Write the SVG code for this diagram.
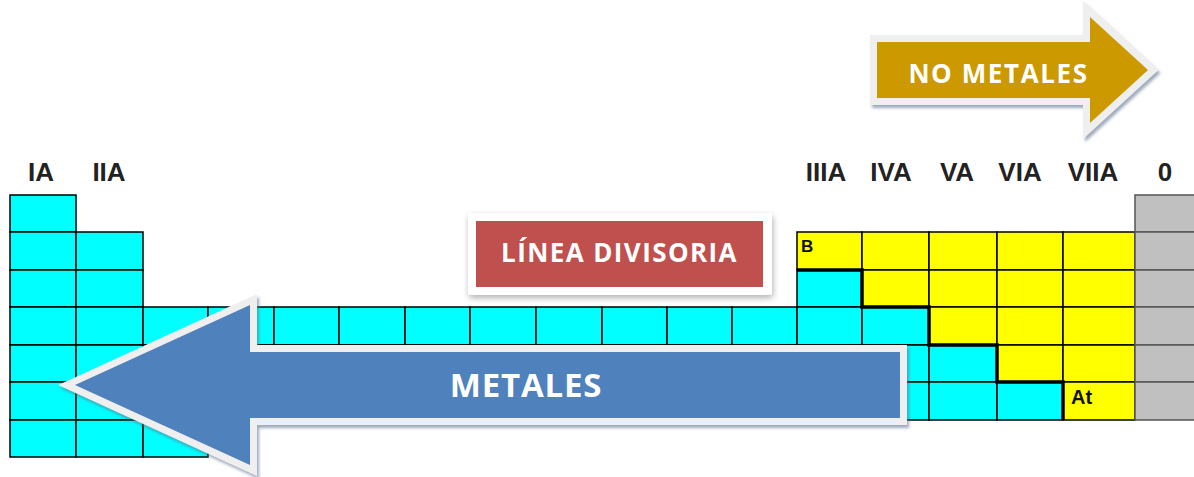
<svg xmlns="http://www.w3.org/2000/svg" width="1194" height="477" viewBox="0 0 1194 477">
<style>
.c{fill:#00FFFF;stroke:#000;stroke-width:1.5}
.y{fill:#FFFF00;stroke:#000;stroke-width:1.5}
.g{fill:#C0C0C0;stroke:#555;stroke-width:1.5}
.lbl{font-family:"Liberation Sans",Arial,sans-serif;font-weight:bold;font-size:26px;fill:#222;text-anchor:middle}
.sym{font-family:"Liberation Sans",Arial,sans-serif;font-weight:bold;fill:#111}
.wt{font-family:"Open Sans","Liberation Sans",sans-serif;font-weight:bold;fill:#fff;text-anchor:middle}
.frame{stroke:#EFEFEF;stroke-width:14;stroke-linejoin:miter;paint-order:stroke}
</style>
<defs>
<filter id="sh" x="-10%" y="-20%" width="120%" height="140%">
<feDropShadow dx="2" dy="3" stdDeviation="1.5" flood-color="#5F7290" flood-opacity="0.6"/>
</filter>
<filter id="sh2" x="-10%" y="-20%" width="120%" height="150%">
<feDropShadow dx="1" dy="3" stdDeviation="3" flood-color="#000" flood-opacity="0.3"/>
</filter>
</defs>
<rect width="1194" height="477" fill="#fff"/>

<g id="labels">
<text class="lbl" x="41" y="181">IA</text>
<text class="lbl" x="109" y="181">IIA</text>
<text class="lbl" x="826" y="181">IIIA</text>
<text class="lbl" x="891" y="181">IVA</text>
<text class="lbl" x="957" y="181">VA</text>
<text class="lbl" x="1020" y="181">VIA</text>
<text class="lbl" x="1093" y="181">VIIA</text>
<text class="lbl" x="1165" y="181">0</text>
</g>

<g id="s-block">
<rect class="c" x="10" y="195" width="66" height="37"/>
<rect class="c" x="10" y="232" width="66" height="38"/>
<rect class="c" x="10" y="270" width="66" height="37"/>
<rect class="c" x="10" y="307" width="66" height="38"/>
<rect class="c" x="10" y="345" width="66" height="37"/>
<rect class="c" x="10" y="382" width="66" height="38"/>
<rect class="c" x="10" y="420" width="66" height="37"/>
<rect class="c" x="76" y="232" width="67" height="38"/>
<rect class="c" x="76" y="270" width="67" height="37"/>
<rect class="c" x="76" y="307" width="67" height="38"/>
<rect class="c" x="76" y="345" width="67" height="37"/>
<rect class="c" x="76" y="382" width="67" height="38"/>
<rect class="c" x="76" y="420" width="67" height="37"/>
</g>

<g id="d-block">
<rect class="c" x="143" y="307" width="65" height="38"/>
<rect class="c" x="143" y="345" width="65" height="37"/>
<rect class="c" x="143" y="382" width="65" height="38"/>
<rect class="c" x="143" y="420" width="65" height="37"/>
<rect class="c" x="208" y="307" width="66" height="38"/>
<rect class="c" x="208" y="345" width="66" height="37"/>
<rect class="c" x="208" y="382" width="66" height="38"/>
<rect class="c" x="274" y="307" width="65" height="38"/>
<rect class="c" x="274" y="345" width="65" height="37"/>
<rect class="c" x="274" y="382" width="65" height="38"/>
<rect class="c" x="339" y="307" width="66" height="38"/>
<rect class="c" x="339" y="345" width="66" height="37"/>
<rect class="c" x="339" y="382" width="66" height="38"/>
<rect class="c" x="405" y="307" width="65" height="38"/>
<rect class="c" x="405" y="345" width="65" height="37"/>
<rect class="c" x="405" y="382" width="65" height="38"/>
<rect class="c" x="470" y="307" width="66" height="38"/>
<rect class="c" x="470" y="345" width="66" height="37"/>
<rect class="c" x="470" y="382" width="66" height="38"/>
<rect class="c" x="536" y="307" width="66" height="38"/>
<rect class="c" x="536" y="345" width="66" height="37"/>
<rect class="c" x="536" y="382" width="66" height="38"/>
<rect class="c" x="602" y="307" width="65" height="38"/>
<rect class="c" x="602" y="345" width="65" height="37"/>
<rect class="c" x="602" y="382" width="65" height="38"/>
<rect class="c" x="667" y="307" width="65" height="38"/>
<rect class="c" x="667" y="345" width="65" height="37"/>
<rect class="c" x="667" y="382" width="65" height="38"/>
<rect class="c" x="732" y="307" width="65" height="38"/>
<rect class="c" x="732" y="345" width="65" height="37"/>
<rect class="c" x="732" y="382" width="65" height="38"/>
</g>

<g id="p-block">
<rect class="y" x="797" y="232" width="65" height="38"/>
<rect class="c" x="797" y="270" width="65" height="37"/>
<rect class="c" x="797" y="307" width="65" height="38"/>
<rect class="c" x="797" y="345" width="65" height="37"/>
<rect class="c" x="797" y="382" width="65" height="38"/>
<rect class="y" x="862" y="232" width="67" height="38"/>
<rect class="y" x="862" y="270" width="67" height="37"/>
<rect class="c" x="862" y="307" width="67" height="38"/>
<rect class="c" x="862" y="345" width="67" height="37"/>
<rect class="c" x="862" y="382" width="67" height="38"/>
<rect class="y" x="929" y="232" width="68" height="38"/>
<rect class="y" x="929" y="270" width="68" height="37"/>
<rect class="y" x="929" y="307" width="68" height="38"/>
<rect class="c" x="929" y="345" width="68" height="37"/>
<rect class="c" x="929" y="382" width="68" height="38"/>
<rect class="y" x="997" y="232" width="66" height="38"/>
<rect class="y" x="997" y="270" width="66" height="37"/>
<rect class="y" x="997" y="307" width="66" height="38"/>
<rect class="y" x="997" y="345" width="66" height="37"/>
<rect class="c" x="997" y="382" width="66" height="38"/>
<rect class="y" x="1063" y="232" width="72" height="38"/>
<rect class="y" x="1063" y="270" width="72" height="37"/>
<rect class="y" x="1063" y="307" width="72" height="38"/>
<rect class="y" x="1063" y="345" width="72" height="37"/>
<rect class="y" x="1063" y="382" width="72" height="38"/>
<text class="sym" x="801" y="252" font-size="17">B</text>
<text class="sym" x="1071" y="404" font-size="20">At</text>
<polyline points="797,270 862,270 862,307 929,307 929,345 997,345 997,382 1063,382 1063,420" fill="none" stroke="#000" stroke-width="3.5"/>
</g>

<g id="noble-gases">
<rect class="g" x="1135" y="195" width="65" height="37"/>
<rect class="g" x="1135" y="232" width="65" height="38"/>
<rect class="g" x="1135" y="270" width="65" height="37"/>
<rect class="g" x="1135" y="307" width="65" height="38"/>
<rect class="g" x="1135" y="345" width="65" height="37"/>
<rect class="g" x="1135" y="382" width="65" height="38"/>
</g>

<g id="linea-divisoria">
<rect x="468" y="213" width="304" height="82" rx="3" fill="#fff" filter="url(#sh2)"/>
<rect x="476" y="221" width="287" height="66" fill="#C0504D"/>
<text class="wt" x="619.5" y="262" font-size="26" letter-spacing="1.4">LÍNEA DIVISORIA</text>
</g>

<g id="no-metales">
<polygon class="frame" points="877,42 1090,42 1090,17 1148,70 1090,123 1090,98 877,98" fill="#CC9900" filter="url(#sh)"/>
<text class="wt" x="998.5" y="83" font-size="26" letter-spacing="1.6">NO METALES</text>
</g>

<g id="metales">
<polygon class="frame" points="75,385 250,305 250,352 900,352 900,418 250,418 250,465" fill="#4F81BD" filter="url(#sh)"/>
<text class="wt" x="526" y="397" font-size="33" letter-spacing="0.8">METALES</text>
</g>
</svg>
